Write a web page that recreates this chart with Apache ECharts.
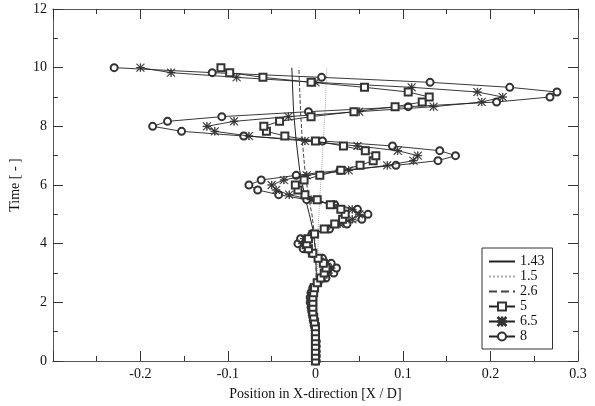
<!DOCTYPE html>
<html>
<head>
<meta charset="utf-8">
<script src="https://cdn.jsdelivr.net/npm/echarts@6/dist/echarts.min.js"></script>
<style>
html, body { margin: 0; padding: 0; background: #fff; }
#chart { width: 595px; height: 406px; }
</style>
</head>
<body>
<div id="chart"></div>
<script>
// time samples shared by the 5 / 6.5 / 8 runs
T = [0,0.17,0.33,0.5,0.67,0.83,1,1.17,1.33,1.5,1.67,1.83,2,2.17,2.33,2.5,2.67,2.83,3,3.17,3.33,3.5,3.67,3.83,4,4.17,4.33,4.5,4.67,4.83,5,5.17,5.33,5.5,5.67,5.83,6,6.17,6.33,6.5,6.67,6.83,7,7.17,7.33,7.5,7.67,7.83,8,8.17,8.33,8.5,8.67,8.83,9,9.17,9.33,9.5,9.67,9.83,10];

X5 = [0,0,0,0,0,0,0, 0,-0.001,-0.002,-0.003,-0.003,
	-0.003,-0.003,-0.002,-0.001,0.002,0.006, 0.01,0.012,0.009,0.003,-0.003,-0.008,
	-0.01,-0.008,-0.001,0.01,0.022,0.031, 0.034,0.029,0.017,0.002,-0.012,-0.02,
	-0.023,-0.013,0.005,0.029,0.051,0.066, 0.069,0.057,0.032,0.0,-0.035,-0.056,
	-0.059,-0.041,-0.005,0.044,0.091,0.122, 0.13,0.106,0.056,-0.005,-0.06,-0.098, -0.108];

X65 = [0,0,0,0,0,0,0, -0.001,-0.002,-0.003,-0.004,-0.005,
	-0.005,-0.005,-0.004,-0.002,0.003,0.009, 0.015,0.018,0.013,0.005,-0.004,-0.011,
	-0.015,-0.013,-0.003,0.012,0.028,0.042, 0.05,0.042,0.02,-0.005,-0.03,-0.045,
	-0.05,-0.036,-0.01,0.038,0.082,0.112, 0.117,0.094,0.048,-0.012,-0.076,-0.115,
	-0.124,-0.093,-0.031,0.05,0.135,0.19, 0.214,0.185,0.11,0.0,-0.09,-0.165, -0.2];

X8 = [0.001,0.001,0.001,0.001,0.001,0,0, -0.001,-0.002,-0.003,-0.004,-0.005,
	-0.006,-0.006,-0.005,-0.003,0.003,0.012, 0.021,0.024,0.018,0.008,-0.004,-0.014,
	-0.02,-0.017,-0.004,0.016,0.036,0.053, 0.06,0.048,0.022,-0.01,-0.042,-0.066,
	-0.076,-0.062,-0.022,0.028,0.092,0.14, 0.16,0.142,0.088,0.008,-0.082,-0.153,
	-0.186,-0.169,-0.107,-0.008,0.106,0.207, 0.268,0.276,0.222,0.131,0.007,-0.118, -0.23];

// the three almost straight runs
TL = [0,1,2,3,3.8,4.5,5,5.6,6.5,7.5,8.5,10];
X143 = [0,0,0,0.001,0,-0.003,-0.007,-0.012,-0.018,-0.022,-0.025,-0.027];
X15 = [0,0,0.001,0.002,0.003,0.003,0.004,0.005,0.007,0.009,0.011,0.013];
X26 = [0,0,0,0.001,0,-0.002,-0.004,-0.008,-0.012,-0.015,-0.017,-0.019];

NAMES = ['1.43','1.5','2.6','5','6.5','8'];

STAR = 'path://M9.2 0H10.8V20H9.2Z M0 9.2H20V10.8H0Z M0 1.1L1.1 0L20 18.9L18.9 20Z M18.9 0L20 1.1L1.1 20L0 18.9Z';
FONT = 'Liberation Serif';

function pairs(xs, ts) {
	var out = [];
	for (var i = 0; i < xs.length; i++) out.push([xs[i], ts[i]]);
	return out;
}

function plainLine(name, xs, color, type) {
	return {
		name: name, type: 'line', data: pairs(xs, TL),
		symbol: 'none', color: color, z: 1,
		lineStyle: { color: color, width: 1, type: type }
	};
}

function markLine(name, xs, symbol, size, z) {
	return {
		name: name, type: 'line', data: pairs(xs, T), z: z,
		symbol: symbol, symbolSize: size, showAllSymbol: true, color: '#333',
		itemStyle: { color: '#333', borderColor: '#333', borderWidth: 0.6 },
		lineStyle: { color: '#222', width: 0.9 }
	};
}

function tickAxis(pos, isX) {
	var ax = {
		type: 'value', position: pos,
		axisLine: { show: true, onZero: false, lineStyle: { color: '#555', width: 1 } },
		axisTick: { show: true, inside: true, length: 10, lineStyle: { color: '#333' } },
		minorTick: { show: true, splitNumber: 2, length: 5, lineStyle: { color: '#333' } },
		splitLine: { show: false },
		axisLabel: { show: false }
	};
	if (isX) { ax.min = -0.3; ax.max = 0.3; ax.interval = 0.1; }
	else { ax.min = 0; ax.max = 12; ax.interval = 2; }
	return ax;
}

var chart = echarts.init(document.getElementById('chart'));

var xMain = tickAxis('bottom', true);
xMain.axisLabel = {
	show: true, margin: 6, color: '#111', fontFamily: FONT, fontSize: 14,
	formatter: function(v) {
		if (Math.abs(v + 0.3) < 1e-9) return '';
		return String(Math.round(v * 10) / 10);
	}
};
xMain.name = 'Position in X-direction [X / D]';
xMain.nameLocation = 'middle';
xMain.nameGap = 26;
xMain.nameTextStyle = { color: '#111', fontFamily: FONT, fontSize: 14 };

var xTop = tickAxis('top', true);

var yMain = tickAxis('left', false);
yMain.axisLabel = { show: true, margin: 6, color: '#111', fontFamily: FONT, fontSize: 14 };
yMain.name = 'Time [ - ]';
yMain.nameLocation = 'middle';
yMain.nameGap = 24;
yMain.nameTextStyle = { color: '#111', fontFamily: FONT, fontSize: 14 };

var yRight = tickAxis('right', false);

var series = [
	plainLine('1.43', X143, '#222', 'solid'),
	plainLine('1.5', X15, '#aaa', 'dotted'),
	plainLine('2.6', X26, '#444', 'dashed'),
	markLine('5', X5, 'emptyRect', 7, 4),
	markLine('6.5', X65, STAR, 8, 3),
	markLine('8', X8, 'emptyCircle', 7, 2)
];

// plain runs get a legend sample without a marker
var legendData = NAMES.map(function(n, i) {
	return i < 3 ? { name: n, itemStyle: { color: 'rgba(0,0,0,0)', borderColor: 'rgba(0,0,0,0)' } } : { name: n };
});

chart.setOption({
	animation: false,
	backgroundColor: '#fff',
	grid: { left: 51, right: 17, top: 9, bottom: 37 },
	xAxis: [xMain, xTop],
	yAxis: [yMain, yRight],
	legend: {
		data: legendData, orient: 'vertical',
		left: 482, top: 248, z: 10,
		padding: [6, 8, 5, 6],
		itemWidth: 26, itemHeight: 10, itemGap: 0,
		backgroundColor: '#fff', borderColor: '#333', borderWidth: 1, borderRadius: 0,
		textStyle: { color: '#111', fontFamily: FONT, fontSize: 14, lineHeight: 15 }
	},
	series: series
});
</script>
</body>
</html>
